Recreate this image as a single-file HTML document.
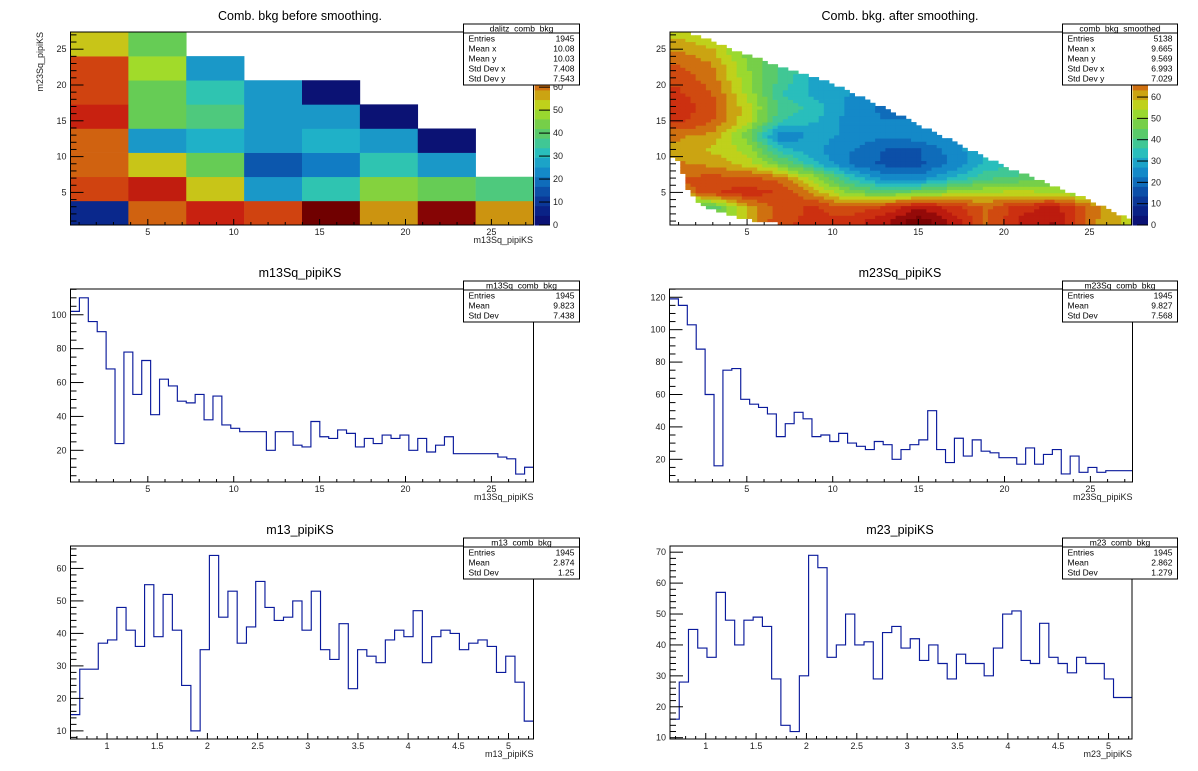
<!DOCTYPE html>
<html><head><meta charset="utf-8"><style>
html,body{margin:0;padding:0;background:#fff;}
svg{display:block;font-family:"Liberation Sans",Arial,sans-serif;}
</style></head><body>
<svg id="c" xmlns="http://www.w3.org/2000/svg" width="1198" height="771" viewBox="0 0 1198 771"></svg>
<script>
// ---- data ----
const m13SqValues=[102,110,96,90,68,24,78,53,73,41,62,58,49,48,53,38,52,35,33,31,31,31,20,31,31,23,22,37,28,27,32,30,22,27,24,29,27,29,20,27,19,23,28,18,18,18,18,18,16,15,6,10];
const m23SqValues=[119,115,103,88,60,16,75,76,57,54,52,48,34,42,49,45,34,35,31,36,30,28,26,31,29,20,26,29,32,50,26,18,33,22,32,25,24,21,21,17,27,17,23,26,11,22,12,15,12,13,13,13];
const m13Values=[15,29,29,37,38,48,41,36,55,39,52,41,24,10,35,64,45,53,37,42,56,48,44,45,50,41,53,35,32,43,23,35,33,31,38,41,39,47,31,39,41,40,35,37,38,36,28,33,25,13];
const m23Values=[16,28,45,39,36,57,48,40,48,49,46,29,14,12,30,69,65,36,40,50,40,41,29,44,46,39,42,35,40,34,29,37,34,34,30,39,50,51,35,34,47,36,34,31,36,34,34,29,23,23];
// raw dalitz 8x8, rows bottom->top
const dalitzRows=[
[8,62,72,66,84,58,80,58],
[66,73,54,26,33,46,42,38],
[62,54,42,16,21,33,26,null],
[62,26,29,26,29,26,2,null],
[72,42,38,26,26,2,null,null],
[66,42,33,26,2,null,null,null],
[66,49,26,null,null,null,null,null],
[54,42,null,null,null,null,null,null]];
// smoothed grid, centers x=1,3,..27 ; rows y=1,3,..27 bottom->top
const smoothRows=[
[45,45,60,72,73,75,80,90,80,67,78,82,65,58],
[35,42,60,71,73,68,73,80,75,67,75,78,67,58],
[64,72,75,72,62,48,44,48,52,55,56,54,48,48],
[68,70,69,66,52,36,25,24,33,40,42,44,44,44],
[64,62,57,46,33,22,17,17,23,33,36,36,36,36],
[62,58,53,34,28,23,18,18,25,31,31,31,31,31],
[64,62,47,22,29,26,24,25,28,30,30,30,30,30],
[74,68,56,36,32,25,23,23,24,25,25,25,25,25],
[76,69,56,40,34,26,21,21,21,22,22,22,22,22],
[73,68,53,36,30,27,26,26,26,26,26,26,26,26],
[71,65,51,40,30,30,30,30,30,30,30,30,30,30],
[68,63,50,40,35,35,35,35,35,35,35,35,35,35],
[63,59,47,42,42,42,42,42,42,42,42,42,42,42],
[58,54,50,48,48,48,48,48,48,48,48,48,48,48]];
const boundX=[0.5,1.5,5,10,15,20,25,27.5];
const boundYmax=[28,27.5,24.2,20.2,14.5,8.7,3.9,1.0];
const lowX=[0.5,1.0,1.6,2.3,3.1,5.4,7.0,8,27.5];
const lowYmin=[9.8,9.4,4.9,3.5,2.4,1.0,0.6,0.4,0.4];
const zTicks=[0,10,20,30,40,50,60];
const statsDalitz=[["Entries","1945"],["Mean x","10.08"],["Mean y","10.03"],["Std Dev x","7.408"],["Std Dev y","7.543"]];
const statsSmooth=[["Entries","5138"],["Mean x","9.665"],["Mean y","9.569"],["Std Dev x","6.993"],["Std Dev y","7.029"]];
const statsM13Sq=[["Entries","1945"],["Mean","9.823"],["Std Dev","7.438"]];
const statsM23Sq=[["Entries","1945"],["Mean","9.827"],["Std Dev","7.568"]];
const statsM13=[["Entries","1945"],["Mean","2.874"],["Std Dev","1.25"]];
const statsM23=[["Entries","1945"],["Mean","2.862"],["Std Dev","1.279"]];

// ---- helpers ----
const NS="http://www.w3.org/2000/svg";
const svg=document.getElementById('c');
function mk(tag,attrs,parent){const e=document.createElementNS(NS,tag);for(const k in attrs)e.setAttribute(k,attrs[k]);(parent||svg).appendChild(e);return e;}
const stops=[[0,[11,10,108]],[0.1,[10,42,142]],[0.2,[12,92,176]],[0.26,[18,130,200]],[0.31,[26,152,200]],[0.35,[32,180,200]],[0.39,[46,196,180]],[0.44,[72,200,136]],[0.5,[102,204,85]],[0.56,[140,212,56]],[0.6,[176,224,32]],[0.64,[200,200,24]],[0.69,[204,148,16]],[0.74,[208,96,16]],[0.79,[208,64,16]],[0.86,[200,32,16]],[0.93,[144,8,8]],[1,[112,0,0]]];
function pal(f){f=Math.max(0,Math.min(1,f));for(let i=1;i<stops.length;i++){if(f<=stops[i][0]){const a=stops[i-1],b=stops[i],t=(f-a[0])/(b[0]-a[0]);const c=a[1].map((v,k)=>Math.round(v+(b[1][k]-v)*t));return `rgb(${c[0]},${c[1]},${c[2]})`;}}return 'rgb(112,0,0)';}
function qpal(f){f=Math.max(0,Math.min(0.999,f));return pal(Math.floor(f*20)/20+0.025);}
function lerpArr(xs,ys,x){if(x<=xs[0])return ys[0];for(let i=1;i<xs.length;i++){if(x<=xs[i]){const t=(x-xs[i-1])/(xs[i]-xs[i-1]);return ys[i-1]+(ys[i]-ys[i-1])*t;}}return ys[ys.length-1];}
function scale(d0,d1,p0,p1){return v=>p0+(v-d0)/(d1-d0)*(p1-p0);}
function fmt(v){return String(+v.toFixed(3));}

function axes(g,F,xr,yr,xt,yt){
  const sx=scale(xr[0],xr[1],F.x0,F.x1), sy=scale(yr[0],yr[1],F.y1,F.y0);
  const fr=mk('rect',{x:F.x0,y:F.y0,width:F.x1-F.x0,height:F.y1-F.y0,fill:'none',stroke:'#000','stroke-width':1},g);
  
  
  const xg=mk('g',{},g);
  
  
  for(let v=Math.ceil(xr[0]/xt.minor-1e-9)*xt.minor;v<=xr[1]+1e-9;v+=xt.minor){
    const isMaj=Math.abs(v/xt.major-Math.round(v/xt.major))<1e-6;const px=sx(v);
    mk('line',{x1:px,x2:px,y1:F.y1,y2:F.y1-(isMaj?6:3),stroke:'#000','stroke-width':1},xg);
    if(isMaj){const t=mk('text',{x:px,y:F.y1+10,'font-size':9,'text-anchor':'middle',fill:'#222'},xg);t.textContent=fmt(v);
      
      }
  }
  const yg=mk('g',{},g);
  
  
  for(let v=Math.ceil(yr[0]/yt.minor-1e-9)*yt.minor;v<=yr[1]+1e-9;v+=yt.minor){
    const isMaj=Math.abs(v/yt.major-Math.round(v/yt.major))<1e-6;const py=sy(v);
    mk('line',{x1:F.x0,x2:F.x0+(isMaj?13:6),y1:py,y2:py,stroke:'#000','stroke-width':1},yg);
    if(isMaj){const t=mk('text',{x:F.x0-4,y:py+3,'font-size':9,'text-anchor':'end',fill:'#222'},yg);t.textContent=fmt(v);
      
      }
  }
  return {sx,sy};
}
function title(g,cx,y,txt){const t=mk('text',{x:cx,y:y,'font-size':12.5,'text-anchor':'middle',fill:'#000'},g);t.textContent=txt;
  
  }
function xtitle(g,x,y,txt){const t=mk('text',{x:x,y:y,'font-size':9,'text-anchor':'end',fill:'#222'},g);t.textContent=txt;
  
  }
function stats(g,x0,x1,y0,name,rows){
  const b=mk('g',{},g);
  
  
  const h=9+rows.length*10+2;
  mk('rect',{x:x0,y:y0,width:x1-x0,height:h,fill:'#fff',stroke:'#000','stroke-width':1},b);
  mk('line',{x1:x0,x2:x1,y1:y0+9,y2:y0+9,stroke:'#000','stroke-width':1},b);
  const t=mk('text',{x:(x0+x1)/2,y:y0+7.5,'font-size':8.5,'text-anchor':'middle',fill:'#000'},b);t.textContent=name;
  rows.forEach((r,i)=>{const yy=y0+9+10*i+8.5;
    const a=mk('text',{x:x0+5,y:yy,'font-size':8.5,fill:'#000'},b);a.textContent=r[0];
    const c=mk('text',{x:x1-5,y:yy,'font-size':8.5,'text-anchor':'end',fill:'#000'},b);c.textContent=r[1];});
}
function colorbar(g,x0,x1,y0,y1,zmax){
  const cb=mk('g',{},g);
  
  
  const n=20,hh=(y1-y0)/n;
  for(let i=0;i<n;i++){mk('rect',{x:x0,y:y1-(i+1)*hh,width:x1-x0,height:hh+0.5,fill:pal((i+0.5)/n)},cb);}
  const sz=scale(0,zmax,y1,y0);
  zTicks.forEach(v=>{const py=sz(v);mk('line',{x1:x1-11,x2:x1,y1:py,y2:py,stroke:'#000','stroke-width':1},cb);
    const t=mk('text',{x:x1+3,y:py+3,'font-size':9,fill:'#222'},cb);t.textContent=v;});
}
function hist(g,F,xr,yr,vals,name){
  const sx=scale(xr[0],xr[1],F.x0,F.x1), sy=scale(yr[0],yr[1],F.y1,F.y0);
  const n=vals.length,w=(xr[1]-xr[0])/n;let d='';
  vals.forEach((v,i)=>{const xa=sx(xr[0]+i*w),xb=sx(xr[0]+(i+1)*w),py=sy(v);d+=(i===0?`M${xa},${py}`:`L${xa},${py}`)+`L${xb},${py}`;});
  const p=mk('path',{d:d,fill:'none',stroke:'#0a1a9c','stroke-width':1.15},g);
  
  
}

// ---- pad 1: raw dalitz ----
(function(){
  const g=mk('g',{});
  
  
  const F={x0:70.5,x1:533.5,y0:32,y1:225},xr=[0.5,27.45],yr=[0.45,27.4],zmax=84;
  const sx=scale(xr[0],xr[1],F.x0,F.x1), sy=scale(yr[0],yr[1],F.y1,F.y0);
  const cells=mk('g',{},g);
  
  
  const nb=8,bw=(xr[1]-xr[0])/nb,bh=(yr[1]-yr[0])/nb;
  dalitzRows.forEach((row,j)=>row.forEach((v,i)=>{if(v===null)return;
    const xa=sx(xr[0]+i*bw),xb=sx(xr[0]+(i+1)*bw),ya=sy(yr[0]+(j+1)*bh),yb=sy(yr[0]+j*bh);
    const r=mk('rect',{x:xa,y:ya,width:xb-xa+0.3,height:yb-ya+0.3,fill:pal(v/zmax)},cells);
    
    }));
  axes(g,F,xr,yr,{major:5,minor:1},{major:5,minor:1});
  colorbar(g,534.5,550,F.y0,F.y1,zmax);
  title(g,300,20,'Comb. bkg before smoothing.');
  xtitle(g,533,243,'m13Sq_pipiKS');
  const yt=mk('text',{x:0,y:0,'font-size':9,'text-anchor':'end',fill:'#222',transform:'translate(43,32) rotate(-90)'},g);yt.textContent='m23Sq_pipiKS';
  
  
  stats(g,463.5,579.5,24,'dalitz_comb_bkg',statsDalitz);
})();

// ---- pad 2: smoothed ----
(function(){
  const g=mk('g',{});
  
  
  const F={x0:670,x1:1131.5,y0:32,y1:225},xr=[0.5,27.45],yr=[0.45,27.4],zmax=90.5;
  const sx=scale(xr[0],xr[1],F.x0,F.x1), sy=scale(yr[0],yr[1],F.y1,F.y0);
  const cells=mk('g',{},g);
  
  
  function val(x,y){let fi=(x-1)/2,fj=(y-1)/2;fi=Math.max(0,Math.min(12.999,fi));fj=Math.max(0,Math.min(12.999,fj));
    const i=Math.floor(fi),j=Math.floor(fj),tx=fi-i,ty=fj-j;
    const a=smoothRows[j][i],b=smoothRows[j][i+1],c=smoothRows[j+1][i],d=smoothRows[j+1][i+1];
    return (a*(1-tx)+b*tx)*(1-ty)+(c*(1-tx)+d*tx)*ty;}
  const NX=90,NY=60,bw=(xr[1]-xr[0])/NX,bh=(yr[1]-yr[0])/NY;
  for(let j=0;j<NY;j++)for(let i=0;i<NX;i++){
    const x=xr[0]+(i+0.5)*bw,y=yr[0]+(j+0.5)*bh;
    if(y>lerpArr(boundX,boundYmax,x)||y<lerpArr(lowX,lowYmin,x))continue;
    const xa=sx(xr[0]+i*bw),xb=sx(xr[0]+(i+1)*bw),ya=sy(yr[0]+(j+1)*bh),yb=sy(yr[0]+j*bh);
    mk('rect',{x:xa,y:ya,width:xb-xa+0.4,height:yb-ya+0.4,fill:qpal(val(x,y)/zmax)},cells);
  }
  axes(g,F,xr,yr,{major:5,minor:1},{major:5,minor:1});
  colorbar(g,1132.5,1148,F.y0,F.y1,zmax);
  title(g,900,20,'Comb. bkg. after smoothing.');
  stats(g,1062.5,1177.5,24,'comb_bkg_smoothed',statsSmooth);
})();

// ---- pads 3-6: 1D histograms ----
function histPad(name,F,xr,yr,xt,yt,vals,tcx,ty,ttl,xty,sx0,sx1,sy0,sname,srows){
  const g=mk('g',{});
  
  
  hist(g,F,xr,yr,vals,'histogram-line');
  axes(g,F,xr,yr,xt,yt);
  title(g,tcx,ty,ttl);
  xtitle(g,F.x1,xty,ttl);
  stats(g,sx0,sx1,sy0,sname,srows);
}
histPad('pad-m13sq',{x0:70.5,x1:533.5,y0:289,y1:482},[0.5,27.45],[1.3,115.2],{major:5,minor:1},{major:20,minor:5},m13SqValues,300,277,'m13Sq_pipiKS',500,463.5,579.5,281,'m13Sq_comb_bkg',statsM13Sq);
histPad('pad-m23sq',{x0:669.5,x1:1132.5,y0:289,y1:482},[0.5,27.45],[6.0,125.1],{major:5,minor:1},{major:20,minor:5},m23SqValues,900,277,'m23Sq_pipiKS',500,1062.5,1177.5,281,'m23Sq_comb_bkg',statsM23Sq);
histPad('pad-m13',{x0:70.5,x1:533.5,y0:546,y1:739},[0.636,5.249],[7.5,66.9],{major:0.5,minor:0.1},{major:10,minor:2},m13Values,300,534,'m13_pipiKS',757,463.5,579.5,538,'m13_comb_bkg',statsM13);
histPad('pad-m23',{x0:670,x1:1132,y0:546,y1:739},[0.645,5.233],[9.58,72.0],{major:0.5,minor:0.1},{major:10,minor:2},m23Values,900,534,'m23_pipiKS',757,1062.5,1177.5,538,'m23_comb_bkg',statsM23);
</script>
</body></html>
